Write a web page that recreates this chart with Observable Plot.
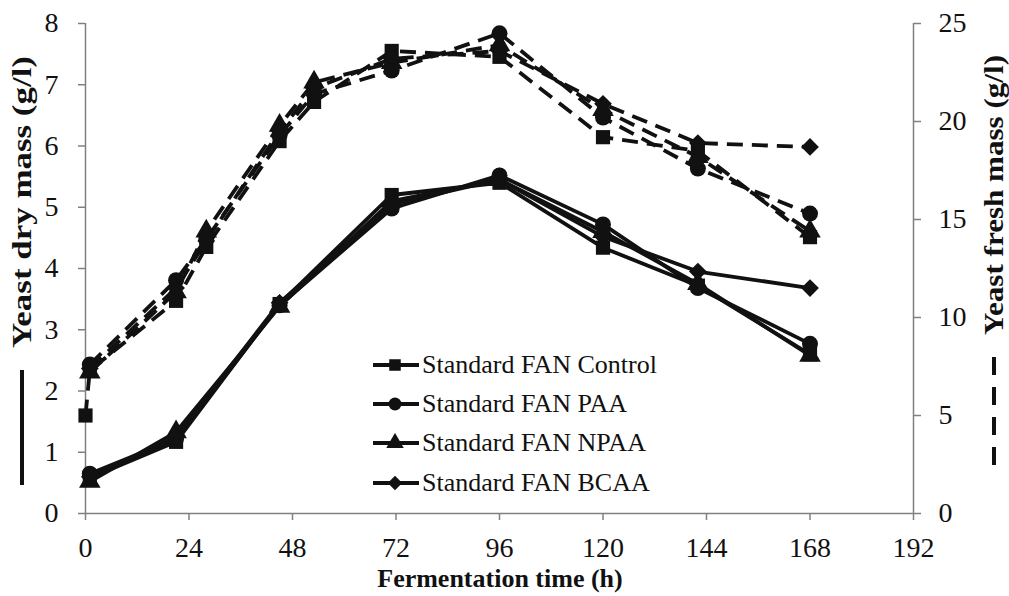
<!DOCTYPE html>
<html>
<head>
<meta charset="utf-8">
<script src="https://cdn.jsdelivr.net/npm/d3@7"></script>
<script src="https://cdn.jsdelivr.net/npm/@observablehq/plot@0.6"></script>
<style>
  html, body { margin: 0; padding: 0; background: #fff; }
  #wrap { position: relative; width: 1009px; height: 596px; }
  #legend { position: absolute; left: 373px; top: 345px; font-family: "Liberation Serif", "Times New Roman", serif; font-size: 26px; color: #111; }
  #legend .row { display: flex; align-items: center; height: 39.3px; white-space: nowrap; }
  #legend svg { margin-right: 3px; }
</style>
</head>
<body>
<div id="wrap"><div id="legend"></div></div>
<script>
// Series (treatments) and their marker shapes
const seriesNames = ["Standard FAN Control", "Standard FAN PAA", "Standard FAN NPAA", "Standard FAN BCAA"];
const seriesSymbols = ["square", "circle", "triangle", "diamond2"];

// Yeast dry mass (g/l), left axis
const dryTimes = [1, 21, 45, 71, 96, 120, 142, 168];
const dryControl = [0.58, 1.17, 3.42, 5.20, 5.40, 4.34, 3.72, 2.60];
const dryPAA     = [0.65, 1.22, 3.40, 4.98, 5.52, 4.72, 3.68, 2.77];
const dryNPAA    = [0.52, 1.33, 3.38, 5.10, 5.45, 4.60, 3.75, 2.58];
const dryBCAA    = [0.60, 1.25, 3.44, 5.05, 5.45, 4.52, 3.95, 3.68];

// Yeast fresh mass (g/l), right axis
const freshTimesControl = [0, 1, 21, 28, 45, 53, 71, 96, 120, 142, 168];
const freshTimes = [1, 21, 28, 45, 53, 71, 96, 120, 142, 168];
const freshControl = [5.0, 7.3, 10.85, 13.6, 19.0, 21.0, 23.6, 23.3, 19.2, 18.5, 14.1];
const freshPAA     = [7.6, 11.9, 14.0, 19.3, 21.4, 22.6, 24.5, 20.2, 17.6, 15.3];
const freshNPAA    = [7.2, 11.3, 14.4, 19.8, 22.0, 23.0, 23.9, 20.6, 18.2, 14.4];
const freshBCAA    = [7.4, 11.5, 13.9, 19.5, 21.7, 23.2, 23.6, 20.9, 18.9, 18.7];

// Axis ticks
const timeTicks = [0, 24, 48, 72, 96, 120, 144, 168, 192];
const dryTicks = [0, 1, 2, 3, 4, 5, 6, 7, 8];
const freshTicks = [0, 5, 10, 15, 20, 25];

// Right axis maps 0–25 onto the same span as the left 0–8
const ratio = 25 / 8;

const drySeries = [dryControl, dryPAA, dryNPAA, dryBCAA];
const freshSeries = [freshControl, freshPAA, freshNPAA, freshBCAA];

const dry = drySeries.flatMap((vals, i) =>
  vals.map((v, j) => ({series: seriesNames[i], symbol: seriesSymbols[i], t: dryTimes[j], y: v})));
const fresh = freshSeries.flatMap((vals, i) => {
  const times = i === 0 ? freshTimesControl : freshTimes;
  return vals.map((v, j) => ({series: seriesNames[i], symbol: seriesSymbols[i], t: times[j], y: v / ratio}));
});

const axisGrey = "#808080";
const ink = "#111";
const serif = "Liberation Serif, Times New Roman, serif";

const chart = Plot.plot({
  width: 1009,
  height: 596,
  marginLeft: 85,
  marginRight: 96,
  marginTop: 23,
  marginBottom: 83,
  style: {fontFamily: serif, background: "#fff", color: ink},
  x: {domain: [0, 192], label: null},
  y: {domain: [0, 8], label: null},
  symbol: {type: "identity"},
  marks: [
    Plot.ruleX([0], {stroke: axisGrey, strokeWidth: 1.5}),
    Plot.ruleX([192], {stroke: axisGrey, strokeWidth: 1.5}),
    Plot.ruleY([0], {stroke: axisGrey, strokeWidth: 1.5}),
    Plot.axisX(timeTicks, {anchor: "bottom", label: null, tickSize: 7, tickPadding: 17, fontSize: 28,
      stroke: axisGrey, strokeWidth: 1.5, fill: ink, tickFormat: d => String(d)}),
    Plot.axisY(dryTicks, {anchor: "left", label: null, tickSize: 7, tickPadding: 20, fontSize: 28,
      stroke: axisGrey, strokeWidth: 1.5, fill: ink, tickFormat: d => String(d)}),
    Plot.axisY(freshTicks.map(v => v / ratio), {anchor: "right", label: null, tickSize: 7, tickPadding: 18, fontSize: 28,
      stroke: axisGrey, strokeWidth: 1.5, fill: ink, tickFormat: d => String(Math.round(d * ratio))}),
    Plot.line(fresh, {x: "t", y: "y", z: "series", stroke: ink, strokeWidth: 3.8, strokeDasharray: "16,9", strokeLinecap: "butt"}),
    Plot.line(dry, {x: "t", y: "y", z: "series", stroke: ink, strokeWidth: 3.8}),
    Plot.dot(fresh, {x: "t", y: "y", symbol: "symbol", r: 8, fill: ink, stroke: "none"}),
    Plot.dot(dry, {x: "t", y: "y", symbol: "symbol", r: 8, fill: ink, stroke: "none"})
  ]
});

const wrap = document.getElementById("wrap");
wrap.insertBefore(chart, wrap.firstChild);

// Axis titles with line-style keys (solid = dry mass, dashed = fresh mass)
const svg = d3.select(chart);
const titles = svg.append("g").attr("font-family", serif).attr("font-weight", "bold").attr("fill", ink);
titles.append("text")
  .attr("transform", "translate(31,202) rotate(-90)")
  .attr("text-anchor", "middle").attr("font-size", 27)
  .attr("textLength", 292).attr("lengthAdjust", "spacingAndGlyphs")
  .text("Yeast dry mass (g/l)");
titles.append("line").attr("x1", 22).attr("x2", 22).attr("y1", 370).attr("y2", 485)
  .attr("stroke", ink).attr("stroke-width", 4);
titles.append("text")
  .attr("transform", "translate(1003,195) rotate(-90)")
  .attr("text-anchor", "middle").attr("font-size", 27)
  .attr("textLength", 280).attr("lengthAdjust", "spacingAndGlyphs")
  .text("Yeast fresh mass (g/l)");
titles.append("line").attr("x1", 994).attr("x2", 994).attr("y1", 357).attr("y2", 477)
  .attr("stroke", ink).attr("stroke-width", 4).attr("stroke-dasharray", "18,12");
titles.append("text")
  .attr("x", 500).attr("y", 587)
  .attr("text-anchor", "middle").attr("font-size", 26)
  .text("Fermentation time (h)");

// Legend
const symbolTypes = {square: d3.symbolSquare, circle: d3.symbolCircle, triangle: d3.symbolTriangle, diamond2: d3.symbolDiamond2};
const legend = d3.select("#legend");
seriesNames.forEach((name, i) => {
  const row = legend.append("div").attr("class", "row");
  const s = row.append("svg").attr("width", 46).attr("height", 20);
  s.append("line").attr("x1", 0).attr("x2", 46).attr("y1", 10).attr("y2", 10)
    .attr("stroke", ink).attr("stroke-width", 3.8);
  s.append("path").attr("transform", "translate(22,10)")
    .attr("d", d3.symbol(symbolTypes[seriesSymbols[i]], Math.PI * 6.5 * 6.5)())
    .attr("fill", ink);
  row.append("span").text(name);
});
</script>
</body>
</html>
